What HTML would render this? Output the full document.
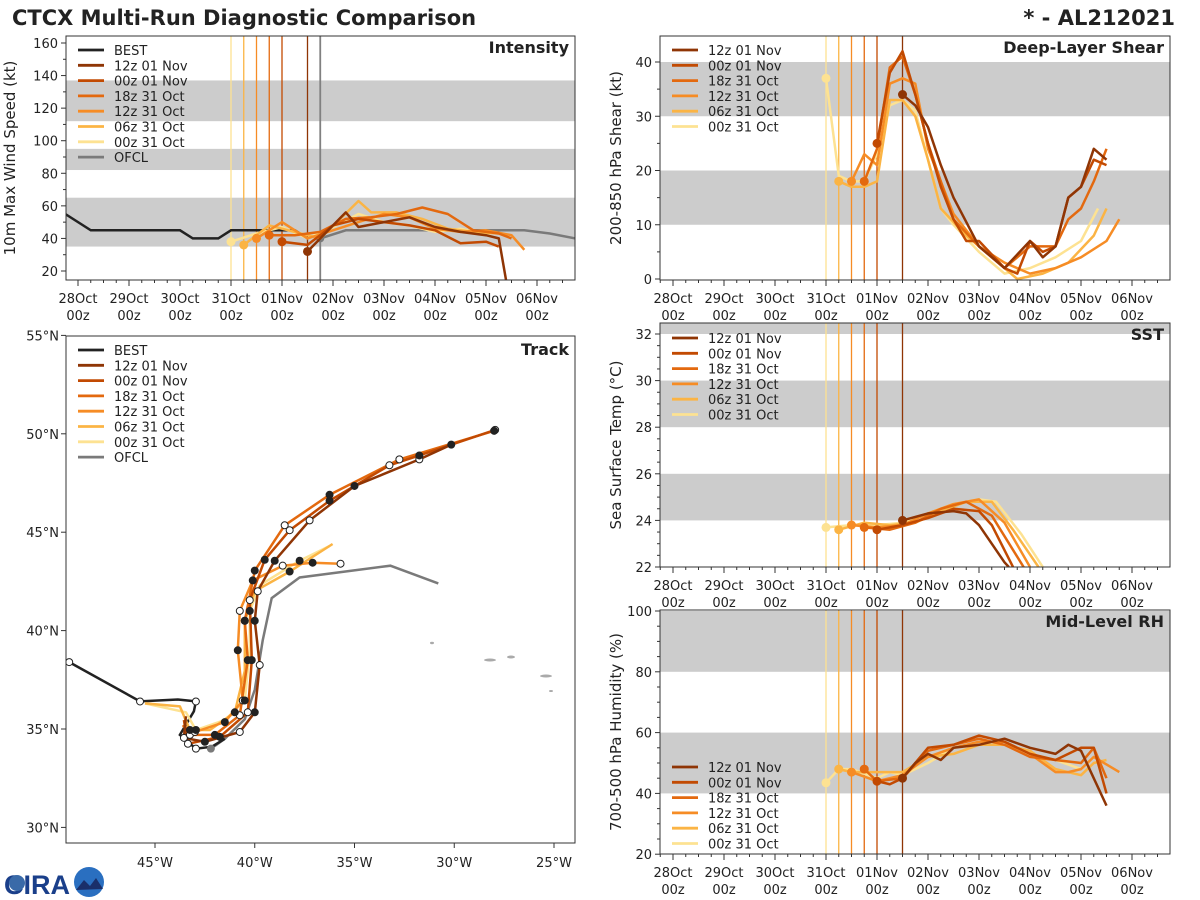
<!DOCTYPE html>
<html><head><meta charset="utf-8">
<style>
html,body{margin:0;padding:0;background:#fff;}
svg{display:block;font-family:"DejaVu Sans","Liberation Sans",sans-serif;}
</style></head>
<body>
<svg id="chart" width="1200" height="900" viewBox="0 0 1200 900" xmlns="http://www.w3.org/2000/svg">
<text x="12" y="25" font-size="21" font-weight="bold" fill="#222">CTCX Multi-Run Diagnostic Comparison</text>
<text x="1175" y="25" font-size="21" font-weight="bold" fill="#222" text-anchor="end">* - AL212021</text>
<g>
<text x="4" y="894" font-size="27" font-weight="bold" fill="#1a3f8a" font-family="Liberation Sans, sans-serif">CIRA</text>
<circle cx="17" cy="883" r="8" fill="#3a6aa8"/>
<circle cx="89" cy="882" r="15" fill="#2a6fc0"/>
<path d="M76 890 L84 880 L90 886 L96 878 L103 889 Z" fill="#1a2f6a"/>
</g>
</svg>
<script>
// ---------- data ----------
const runNames = ["12z 01 Nov","00z 01 Nov","18z 31 Oct","12z 31 Oct","06z 31 Oct","00z 31 Oct"];
const runColors = ["#8f3505","#c24a02","#e3690f","#f68c25","#fbb444","#fde292"];
const runInit = [108,96,90,84,78,72];
const dateLabels = ["28Oct","29Oct","30Oct","31Oct","01Nov","02Nov","03Nov","04Nov","05Nov","06Nov"];

const bestHours = [-6,6,12,24,36,48,54,60,66,72,84,96,102,108];
const bestVmax  = [55,45,45,45,45,45,40,40,40,45,45,45,45,40];
const ofclHours = [114,126,138,150,162,174,186,198,210,222,234];
const ofclVmax  = [40,45,45,45,45,45,45,45,45,43,40];

const intHours = [
 [108,120,126,132,144,156,168,180,192,198,202],
 [96,108,120,132,144,156,168,180,192,198],
 [90,102,114,126,138,150,162,174,186,198,204],
 [84,96,108,120,132,144,156,168,180,192,204,210],
 [78,90,102,114,132,138,150,162,174,186,198],
 [72,84,96,108,120,132,144,156,168,180,194]];
const intVals = [
 [32,48,56,47,50,53,47,44,42,40,10],
 [38,36,48,52,50,48,45,37,38,35],
 [42,42,44,52,53,55,59,55,45,43,40],
 [40,50,40,45,50,55,53,46,44,45,42,33],
 [36,48,44,40,63,56,56,52,46,44,43],
 [38,43,47,40,47,55,50,48,44,46,42]];

const shrHours = [
 [108,114,120,126,132,144,156,168,174,180,186,192,198,204],
 [96,102,108,114,120,126,132,138,144,156,162,168,174,180,186,192,198,204],
 [90,96,102,108,114,120,132,144,156,168,180,186,192,198,204],
 [84,90,96,102,108,114,120,132,144,156,168,180,192,204,210],
 [78,84,90,96,102,108,114,120,126,138,150,162,174,186,198,204],
 [72,78,84,90,96,102,108,114,120,126,132,144,156,168,180,192,200]];
const shrVals = [
 [34,32,28,21,15,6,2,7,4,6,15,17,24,22],
 [25,38,42,34,25,17,11,7,7,2,1,7,5,6,15,17,22,21],
 [18,24,39,41,34,25,11,6,2,6,6,11,13,18,24],
 [18,23,21,36,37,36,24,12,6,3,1,2,4,7,11],
 [18,17,17,18,33,33,30,22,13,8,4,0,1,3,8,13],
 [37,19,18,18,23,32,33,31,22,13,10,5,1,2,4,7,13]];

const sstHours = [
 [108,120,132,138,144,156,158],
 [96,108,120,132,144,150,160],
 [90,102,114,126,138,150,165],
 [84,96,108,120,132,144,156,168],
 [78,90,102,114,126,138,150,160,172],
 [72,84,96,108,120,132,144,152,164,174]];
const sstVals = [
 [24.0,24.3,24.4,24.3,23.8,22.2,22.0],
 [23.6,23.8,24.1,24.5,24.4,23.8,22.0],
 [23.7,23.6,23.9,24.5,24.8,24.2,22.0],
 [23.8,23.7,23.8,24.3,24.7,24.9,23.9,22.0],
 [23.6,23.9,23.8,23.9,24.4,24.8,24.8,23.6,22.0],
 [23.7,23.8,23.8,23.9,24.3,24.7,24.9,24.8,23.4,22.0]];

const rhHours = [
 [108,114,120,126,132,144,156,168,180,186,192,204],
 [96,102,108,120,132,144,156,168,180,192,198,204],
 [90,96,108,120,132,144,156,168,180,192,198,204],
 [84,96,108,120,132,144,156,168,180,186,192,198,210],
 [78,84,96,108,120,132,144,156,168,180,192,198,204],
 [72,78,84,96,102,108,120,132,144,156,168,180,192,198]];
const rhVals = [
 [45,50,53,51,55,56,58,55,53,56,54,36],
 [44,43,45,55,56,59,57,53,51,55,55,40],
 [48,44,45,54,56,58,56,52,51,50,55,45],
 [47,44,46,52,55,57,57,53,47,47,48,52,47],
 [48,47,47,47,52,53,56,56,54,48,46,50,51],
 [43.5,48,48,45,47,46,50,55,56,56,53,51,48,52]];

const bestLon = [-49.3,-45.75,-43.85,-42.95,-43.05,-43.75,-42.95,-42.15,-41.5];
const bestLat = [38.4,36.4,36.5,36.4,35.9,34.7,34.0,34.1,34.5];
const ofclLon = [-42.2,-41.5,-40.5,-40.0,-39.6,-39.15,-37.75,-33.2,-30.8];
const ofclLat = [34.0,34.5,35.5,37.0,39.5,41.65,42.7,43.3,42.4];
const trkLon = [
 [-43.45,-43.55,-42.5,-40.75,-40.0,-39.75,-40.0,-39.85,-39.0,-37.25,-35.0,-31.75,-30.15],
 [-43.55,-43.35,-41.75,-40.35,-40.15,-40.25,-39.5,-38.25,-36.25,-33.25,-31.75,-27.95],
 [-43.6,-43.25,-42.0,-40.75,-40.35,-40.5,-40.0,-38.5,-36.25,-32.75,-28.0],
 [-43.5,-43.0,-41.5,-40.6,-40.85,-40.75,-40.1,-38.6,-37.1,-35.7],
 [-45.5,-43.75,-43.25,-42.25,-41.0,-40.5,-40.5,-40.0,-38.25,-36.1],
 [-45.5,-43.45,-42.95,-41.5,-40.5,-40.25,-40.25,-39.75,-37.75,-36.25]];
const trkLat = [
 [35.65,34.55,34.35,34.85,35.85,38.25,40.5,42.0,43.55,45.6,47.35,48.7,49.45],
 [35.45,34.25,34.6,35.85,38.5,41.55,43.6,45.1,46.6,48.4,48.9,50.2],
 [35.2,34.7,34.7,35.7,38.5,40.5,43.05,45.35,46.9,48.7,50.15],
 [35.1,34.85,35.35,36.45,39.0,41.0,42.55,43.3,43.45,43.4],
 [36.3,36.15,34.95,34.95,35.85,37.95,40.5,42.0,43.0,44.4],
 [36.3,35.85,34.95,35.45,36.45,39.0,41.0,42.3,43.55,44.3]];

// ---------- helpers ----------
const NS="http://www.w3.org/2000/svg";
const svg=document.getElementById('chart');
function mk(tag,attrs,parent){const e=document.createElementNS(NS,tag);for(const k in attrs)e.setAttribute(k,attrs[k]);(parent||svg).appendChild(e);return e;}
function txt(s,x,y,size,anchor,parent,extra){const t=mk('text',Object.assign({x:x,y:y,'font-size':size,'text-anchor':anchor||'start',fill:'#222'},extra||{}),parent);t.textContent=s;return t;}
function pts(xs,ys){return xs.map((v,i)=>xs[i].toFixed(1)+','+ys[i].toFixed(1)).join(' ');}

function timePanel(opt){
  const g=mk('g',{});
  
  
  const x0=opt.x0,x1=opt.x1,y0=opt.y0,y1=opt.y1;
  const X=h=>opt.xOrigin+h*51/24;
  const Y=v=>opt.yAt(v);
  const cid='clip-'+opt.name;
  const cp=mk('clipPath',{id:cid},g);mk('rect',{x:x0,y:y0,width:x1-x0,height:y1-y0},cp);
  opt.bands.forEach(b=>{
    const r=mk('rect',{x:x0,y:Math.max(y0,Y(b[1])),width:x1-x0,height:Math.min(y1,Y(b[0]))-Math.max(y0,Y(b[1])),fill:'#cccccc'},g);
    
    
  });
  const plot=mk('g',{'clip-path':'url(#'+cid+')'},g);
  runInit.forEach((h,i)=>{const l=mk('line',{x1:X(h),x2:X(h),y1:y0,y2:y1,stroke:runColors[i],'stroke-width':1.3},plot);
    
    });
  if(opt.ofclLine){const l=mk('line',{x1:X(opt.ofclLine),x2:X(opt.ofclLine),y1:y0,y2:y1,stroke:'#808080','stroke-width':1.8},plot);
    
    }
  if(opt.best){
    const b=mk('polyline',{points:pts(bestHours.map(X),bestVmax.map(Y)),fill:'none',stroke:'#222','stroke-width':2.5},plot);
    
    
    const o=mk('polyline',{points:pts(ofclHours.map(X),ofclVmax.map(Y)),fill:'none',stroke:'#7a7a7a','stroke-width':2.5},plot);
    
    
    const oc=mk('circle',{cx:X(ofclHours[0]),cy:Y(ofclVmax[0]),r:4,fill:'#7a7a7a'},plot);
    
    
  }
  for(let i=runNames.length-1;i>=0;i--){
    const hs=opt.hours[i],vs=opt.vals[i];
    const p=mk('polyline',{points:pts(hs.map(X),vs.map(Y)),fill:'none',stroke:runColors[i],'stroke-width':2.5,'stroke-linejoin':'round'},plot);
    
    
  }
  for(let i=runNames.length-1;i>=0;i--){
    const c=mk('circle',{cx:X(opt.hours[i][0]),cy:Y(opt.vals[i][0]),r:4.5,fill:runColors[i]},plot);
    
    
  }
  mk('rect',{x:x0,y:y0,width:x1-x0,height:y1-y0,fill:'none',stroke:'#333','stroke-width':1},g);
  for(let h=-6;h<=240;h+=6){const x=X(h);if(x<x0||x>x1)continue;const major=h%24===0;
    mk('line',{x1:x,x2:x,y1:y1,y2:y1+(major?6:3),stroke:'#333','stroke-width':1},g);}
  dateLabels.forEach((d,k)=>{const x=X(k*24);
    const t=txt(d,x,y1+23,13,'middle',g);
    
    
    txt('00z',x,y1+40,13,'middle',g);});
  opt.yTicks.forEach(v=>{const y=Y(v);mk('line',{x1:x0-5,x2:x0,y1:y,y2:y,stroke:'#333'},g);
    const t=txt(String(v),x0-8,y+5,13,'end',g);
    
    });
  if(opt.yMinor)opt.yMinor.forEach(v=>{const y=Y(v);if(y<y0||y>y1)return;mk('line',{x1:x0-3,x2:x0,y1:y,y2:y,stroke:'#333'},g);});
  const cy=(y0+y1)/2;
  const yt=txt(opt.ylabel,opt.ylx,cy,15,'middle',g,{transform:'rotate(-90 '+opt.ylx+' '+cy+')'});
  
  
  const tt=txt(opt.title,x1-6,y0+17,16,'end',g,{'font-weight':'bold'});
  
  
  legend(g,opt.legX,opt.legY,opt.best);
}
function legend(g,lx,ly,withBest){
  const names=withBest?['BEST'].concat(runNames).concat(['OFCL']):runNames.slice();
  const cols=withBest?['#222'].concat(runColors).concat(['#7a7a7a']):runColors.slice();
  names.forEach((n,i)=>{const y=ly+i*15.3;
    const l=mk('line',{x1:lx,x2:lx+26,y1:y,y2:y,stroke:cols[i],'stroke-width':2.8},g);
    
    
    const t=txt(n,lx+36,y+5,13,'start',g);
    
    });
}

timePanel({name:'intensity-panel',x0:66,x1:575,y0:36,y1:280,xOrigin:78,
  yAt:v=>271-(v-20)*1.6286,bands:[[35,65],[82,95],[112,137]],
  hours:intHours,vals:intVals,best:true,ofclLine:114,
  yTicks:[20,40,60,80,100,120,140,160],yMinor:[30,50,70,90,110,130,150],
  ylabel:'10m Max Wind Speed (kt)',ylx:15,title:'Intensity',legX:78,legY:50});
timePanel({name:'shear-panel',x0:660,x1:1170,y0:36,y1:280,xOrigin:673,
  yAt:v=>279-v*5.425,bands:[[10,20],[30,40]],
  hours:shrHours,vals:shrVals,best:false,
  yTicks:[0,10,20,30,40],yMinor:[5,15,25,35,45],
  ylabel:'200-850 hPa Shear (kt)',ylx:621,title:'Deep-Layer Shear',legX:672,legY:50});
timePanel({name:'sst-panel',x0:660,x1:1170,y0:323,y1:567,xOrigin:673,
  yAt:v=>567-(v-22)*23.3,bands:[[24,26],[28,30],[32,33]],
  hours:sstHours,vals:sstVals,best:false,
  yTicks:[22,24,26,28,30,32],yMinor:[22.5,23,23.5,24.5,25,25.5,26.5,27,27.5,28.5,29,29.5,30.5,31,31.5],
  ylabel:'Sea Surface Temp (°C)',ylx:621,title:'SST',legX:672,legY:338});
timePanel({name:'rh-panel',x0:660,x1:1170,y0:610,y1:854,xOrigin:673,
  yAt:v=>611+(100-v)*3.04,bands:[[40,60],[80,100]],
  hours:rhHours,vals:rhVals,best:false,
  yTicks:[20,40,60,80,100],yMinor:[25,30,35,45,50,55,65,70,75,85,90,95],
  ylabel:'700-500 hPa Humidity (%)',ylx:621,title:'Mid-Level RH',legX:672,legY:767});

// ---------- track ----------
(function(){
  const g=mk('g',{});
  
  
  const x0=66,x1=575,y0=336,y1=843;
  const LX=lon=>155+(lon+45)*19.95, LY=lat=>729-(lat-35)*19.68;
  const cp=mk('clipPath',{id:'clip-track'},g);mk('rect',{x:x0,y:y0,width:x1-x0,height:y1-y0},cp);
  const plot=mk('g',{'clip-path':'url(#clip-track)'},g);
  [[432,643,2,1.2],[490,660,6,1.5],[511,657,4,1.5],[546,676,6,1.5],[551,691,2,1]].forEach(s=>{
    const e=mk('ellipse',{cx:s[0],cy:s[1],rx:s[2],ry:s[3],fill:'#aaa'},plot);
    
    });
  const o=mk('polyline',{points:pts(ofclLon.map(LX),ofclLat.map(LY)),fill:'none',stroke:'#7a7a7a','stroke-width':2.5},plot);
  
  
  const b=mk('polyline',{points:pts(bestLon.map(LX),bestLat.map(LY)),fill:'none',stroke:'#222','stroke-width':2.5},plot);
  
  
  for(let i=runNames.length-1;i>=0;i--){
    const p=mk('polyline',{points:pts(trkLon[i].map(LX),trkLat[i].map(LY)),fill:'none',stroke:runColors[i],'stroke-width':2.5,'stroke-linejoin':'round'},plot);
    
    
  }
  for(let i=0;i<runNames.length;i++){
    trkLon[i].forEach((lon,k)=>{if(k===0||k%2===1&&i>3)return;
      const c=mk('circle',{cx:LX(lon),cy:LY(trkLat[i][k]),r:3.5,fill:(k%2===0)?'#222':'#fff',stroke:'#222','stroke-width':1},plot);
      
      });
  }
  [0,1,3,6].forEach(k=>{const c=mk('circle',{cx:LX(bestLon[k]),cy:LY(bestLat[k]),r:3.5,fill:'#fff',stroke:'#222'},plot);
    
    });
  mk('circle',{cx:LX(ofclLon[0]),cy:LY(ofclLat[0]),r:4,fill:'#7a7a7a'},plot);
  mk('rect',{x:x0,y:y0,width:x1-x0,height:y1-y0,fill:'none',stroke:'#333'},g);
  [[-45,'45°W'],[-40,'40°W'],[-35,'35°W'],[-30,'30°W'],[-25,'25°W']].forEach(t=>{const x=LX(t[0]);
    mk('line',{x1:x,x2:x,y1:y1,y2:y1+5,stroke:'#333'},g);
    const l=txt(t[1],x,y1+24,13,'middle',g);
    
    });
  [[55,'55°N'],[50,'50°N'],[45,'45°N'],[40,'40°N'],[35,'35°N'],[30,'30°N']].forEach(t=>{const y=LY(t[0]);
    mk('line',{x1:x0-5,x2:x0,y1:y,y2:y,stroke:'#333'},g);
    const l=txt(t[1],x0-7,y+5,13,'end',g);
    
    });
  const tt=txt('Track',x1-6,y0+19,16,'end',g,{'font-weight':'bold'});
  
  
  legend(g,78,350,true);
})();
</script>
</body></html>
